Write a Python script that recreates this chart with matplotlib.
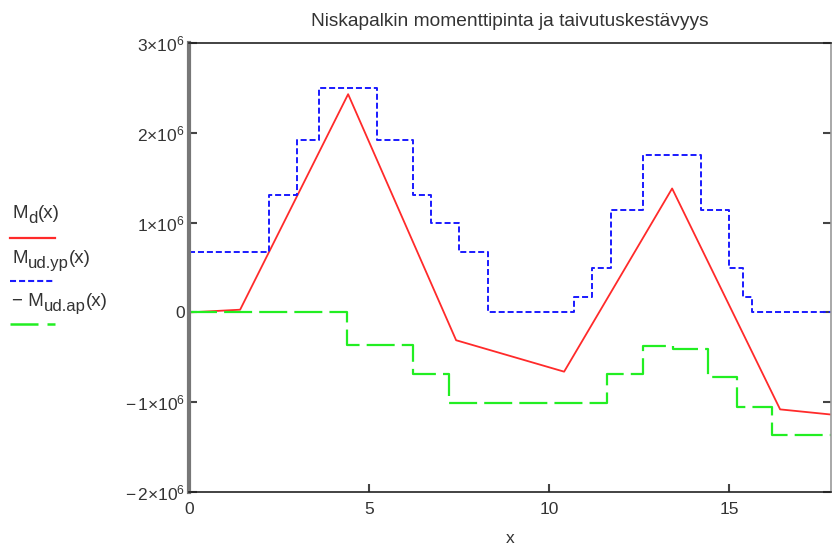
import matplotlib
matplotlib.use("Agg")
import matplotlib.pyplot as plt
from matplotlib.lines import Line2D

plt.rcParams['font.family'] = ['Liberation Sans', 'DejaVu Sans']
plt.rcParams['mathtext.fontset'] = 'custom'
plt.rcParams['mathtext.rm'] = 'Liberation Sans'
plt.rcParams['mathtext.it'] = 'Liberation Sans'

# Design moment M_d(x): piecewise linear
md_x = [0.0, 1.42, 4.42, 7.42, 10.42, 13.42, 16.42, 17.9]
md_y = [0.0, 0.03e6, 2.43e6, -0.31e6, -0.66e6, 1.38e6, -1.08e6, -1.14e6]

# Upper bending resistance M_ud.yp(x): step function (breakpoints, levels)
yp_x = [0.0, 2.22, 3.0, 3.61, 5.22, 6.22, 6.72, 7.5, 8.3, 10.69, 11.2, 11.72,
        12.61, 14.22, 15.0, 15.39, 15.64, 17.9]
yp_y = [0.67e6, 1.31e6, 1.92e6, 2.5e6, 1.92e6, 1.31e6, 0.99e6, 0.67e6, 0.0,
        0.17e6, 0.5e6, 1.14e6, 1.75e6, 1.14e6, 0.5e6, 0.17e6, 0.0, 0.0]

# Lower bending resistance -M_ud.ap(x): step function
ap_x = [0.0, 4.4, 6.22, 7.22, 11.61, 12.61, 13.44, 14.42, 15.22, 16.2, 17.9]
ap_y = [0.0, -0.36e6, -0.69e6, -1.01e6, -0.69e6, -0.37e6, -0.41e6,
        -0.72e6, -1.05e6, -1.36e6, -1.36e6]

x_ticks = [0, 5, 10, 15]
y_ticks = [-2e6, -1e6, 0, 1e6, 2e6, 3e6]
y_tick_labels = [r'$-\,2{\times}10^6$', r'$-\,1{\times}10^6$', '0',
                 r'$1{\times}10^6$', r'$2{\times}10^6$', r'$3{\times}10^6$']

RED = '#ff2a2a'
BLUE = '#1a1aff'
GREEN = '#22ee22'
TXT = '#333333'
BLUE_LS = (0, (3.1, 1.5))
GREEN_LS = (0, (12.6, 3.2))

W, H = 832, 552
fig = plt.figure(figsize=(W / 100, H / 100), dpi=100)
ax = fig.add_axes([189 / W, 1 - 492 / H, (831 - 189) / W, (492 - 43) / H])

ax.plot(md_x, md_y, color=RED, lw=1.3)
ax.step(yp_x, yp_y, where='post', color=BLUE, lw=1.4, linestyle=BLUE_LS)
ax.step(ap_x, ap_y, where='post', color=GREEN, lw=1.6, linestyle=GREEN_LS)

ax.set_xlim(0, (831 - 189) / 36)
ax.set_ylim(-2e6, 3e6)
ax.set_xticks(x_ticks)
ax.set_xticklabels([str(t) for t in x_ticks])
ax.set_yticks(y_ticks)
ax.set_yticklabels(y_tick_labels)
ax.tick_params(direction='in', length=6, width=1.5, colors='#444444',
               labelcolor=TXT, labelsize=12.5, right=True, top=False, pad=3)
ax.tick_params(axis='x', pad=7)

for side in ['top', 'right', 'bottom']:
    ax.spines[side].set_linewidth(1.2)
    ax.spines[side].set_color('#222222')
ax.spines['left'].set_linewidth(3)
ax.spines['left'].set_color('#777777')
ax.spines['right'].set_color('#999999')

ax.set_title('Niskapalkin momenttipinta ja taivutuskestävyys', fontsize=13.8,
             color=TXT, pad=12)
ax.set_xlabel('x', fontsize=12.5, color=TXT, labelpad=10)

# Legend block to the left of the axes, built from main text + subscript pieces
renderer = fig.canvas.get_renderer()


def put_label(x0, y_base, parts):
    x = x0
    for txt, size, dy in parts:
        t = fig.text(x / W, 1 - (y_base - dy) / H, txt, fontsize=size,
                     color=TXT, ha='left', va='baseline')
        x = t.get_window_extent(renderer).x1 + 0.3


legend_items = [
    ([('M', 13.5, 0), ('d', 12, -5), ('(x)', 13.5, 0)], RED, '-', 1.6, 218, 238),
    ([('M', 13.5, 0), ('ud.yp', 12, -5), ('(x)', 13.5, 0)], BLUE,
     (0, (2.9, 1.45)), 1.5, 263, 281),
    ([('\u2212 M', 13.5, 0), ('ud.ap', 12, -5), ('(x)', 13.5, 0)], GREEN,
     (0, (11.2, 3.6)), 1.8, 306, 324),
]
for parts, col, ls, lw, ty, ly in legend_items:
    put_label(12, ty, parts)
    fig.add_artist(Line2D([10 / W, 55 / W], [1 - ly / H, 1 - ly / H],
                          color=col, lw=lw, linestyle=ls))

fig.savefig('out.png', dpi=100)
